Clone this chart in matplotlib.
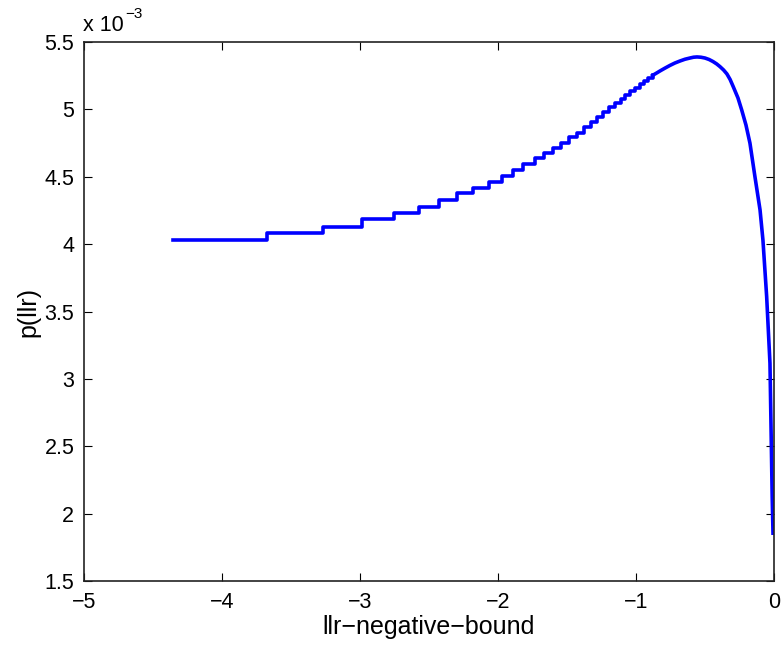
import numpy as np
import matplotlib
matplotlib.use("Agg")
import matplotlib.pyplot as plt

plt.rcParams['font.family'] = ['Liberation Sans', 'DejaVu Sans']

# stepped part of the curve: x where each step starts, level after the step (x 1e-3)
step_x = [-4.355, -3.676, -3.266, -2.988, -2.751, -2.570, -2.425, -2.299,
          -2.179, -2.063, -1.973, -1.889, -1.817, -1.732, -1.663, -1.601,
          -1.540, -1.482, -1.428, -1.377, -1.326, -1.279, -1.236, -1.192,
          -1.153, -1.112, -1.076, -1.040, -1.004, -0.971, -0.940, -0.910,
          -0.880]
step_p = [4.031, 4.085, 4.130, 4.185, 4.234, 4.278, 4.328, 4.378,
          4.415, 4.461, 4.506, 4.550, 4.595, 4.637, 4.674, 4.711,
          4.753, 4.793, 4.827, 4.866, 4.907, 4.944, 4.981, 5.014,
          5.048, 5.077, 5.107, 5.136, 5.162, 5.188, 5.210, 5.232,
          5.252]

# smooth part up to the bound
tail_x = [-0.880, -0.850, -0.826, -0.790, -0.754, -0.718, -0.681, -0.645,
          -0.609, -0.583, -0.558, -0.530, -0.500, -0.470, -0.442, -0.415,
          -0.391, -0.365, -0.341, -0.318, -0.295, -0.261, -0.234, -0.203,
          -0.174, -0.138, -0.101, -0.080, -0.053, -0.029, -0.021, -0.013,
          -0.007]
tail_p = [5.252, 5.270, 5.285, 5.306, 5.326, 5.344, 5.359, 5.372,
          5.381, 5.387, 5.389, 5.387, 5.381, 5.370, 5.355, 5.337,
          5.317, 5.292, 5.263, 5.222, 5.168, 5.085, 4.996, 4.884,
          4.749, 4.501, 4.254, 4.031, 3.611, 3.116, 2.622, 2.127,
          1.855]

xticks = [-5, -4, -3, -2, -1, 0]
yticks = [1.5, 2, 2.5, 3, 3.5, 4, 4.5, 5, 5.5]

fig = plt.figure(figsize=(7.81, 6.46), dpi=100)
ax = fig.add_axes([0.1076, 0.1006, 0.8834, 0.8344])

ax.plot(step_x, step_p, drawstyle='steps-post', color='#0000ff', lw=2.6)
ax.plot(tail_x, tail_p, color='#0000ff', lw=2.6)

ax.set_xlim(-5, 0)
ax.set_ylim(1.5, 5.5)
ax.set_xticks(xticks)
ax.set_xticklabels([str(t).replace('-', '\u2212') for t in xticks])
ax.set_yticks(yticks)
ax.set_yticklabels(['%g' % t for t in yticks])
ax.tick_params(direction='in', length=6, width=0.8, top=True, right=True,
               labelsize=15.5, pad=8)
ax.tick_params(axis='y', pad=7)
for s in ax.spines.values():
    s.set_linewidth(1.2)
    s.set_color('#222222')

ax.set_xlabel('llr\u2212negative\u2212bound', fontsize=18, labelpad=1)
ax.set_ylabel('p(llr)', fontsize=18, labelpad=3)

# exponent label above the y axis
fig.text(0.106, 0.944, 'x 10', fontsize=15.5, ha='left', va='bottom')
fig.text(0.160, 0.968, '\u22123', fontsize=11, ha='left', va='bottom')

fig.savefig('out.png', dpi=100)
